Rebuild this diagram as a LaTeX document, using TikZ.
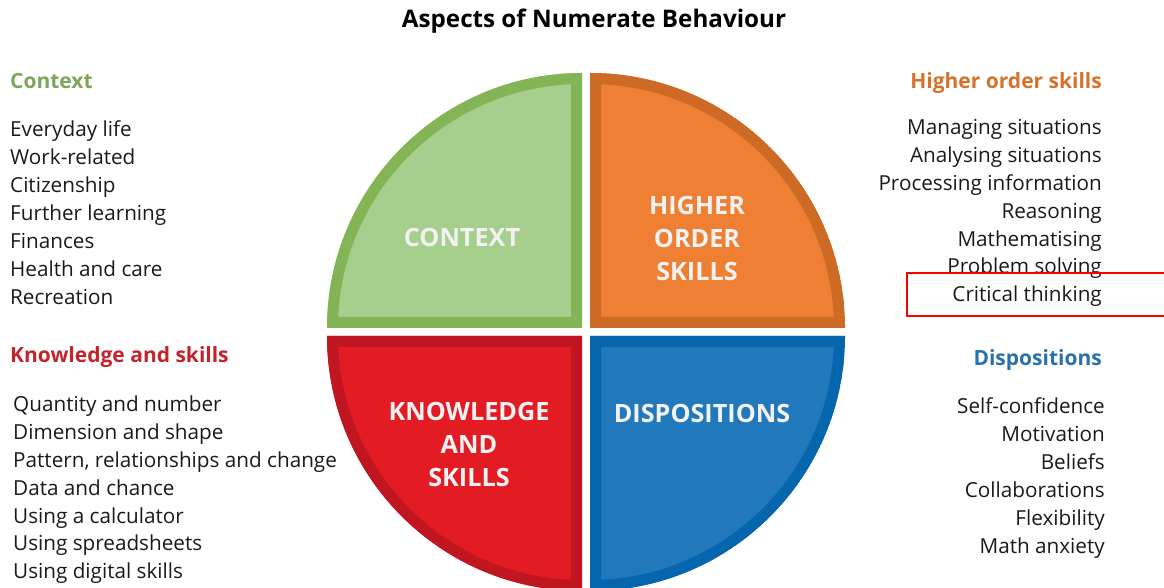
\documentclass[tikz,border=0pt]{standalone}
\usepackage{fontspec}
\setmainfont{Open Sans}
\begin{document}
\definecolor{ctxfill}{HTML}{A6CE8C}
\definecolor{ctxedge}{HTML}{83B556}
\definecolor{ctxhead}{HTML}{7DA55B}
\definecolor{hosfill}{HTML}{EE7F33}
\definecolor{hosedge}{HTML}{CD6A25}
\definecolor{hoshead}{HTML}{D6722B}
\definecolor{kasfill}{HTML}{E31B23}
\definecolor{kasedge}{HTML}{BF1622}
\definecolor{kashead}{HTML}{C3242C}
\definecolor{disfill}{HTML}{2178BA}
\definecolor{disedge}{HTML}{0566AD}
\definecolor{dishead}{HTML}{2A70AA}
\definecolor{bodytext}{HTML}{1A1A1A}
\definecolor{labeltext}{HTML}{F2F2F2}
\begin{tikzpicture}[x=1pt,y=1pt,
  title/.style={font=\fontsize{24.2}{28}\selectfont\bfseries, text=black, inner sep=0pt},
  heading/.style={font=\fontsize{21}{24}\selectfont\bfseries, inner sep=0pt},
  item/.style={font=\fontsize{20.7}{24}\selectfont, text=bodytext, inner sep=0pt},
  qlabel/.style={font=\fontsize{25.2}{33}\selectfont\bfseries, text=labeltext, align=center, inner sep=0pt},
  highlight/.style={draw=red, line width=2pt}]
\useasboundingbox (0,0) rectangle (1164,588);
\clip (0,0) rectangle (1164,588);

% quarter discs: fill, then an inner band drawn inside the clipped outline
\newcommand{\quarter}[5]{%
  \begin{scope}
    \clip #1 -- ++(#2) arc[start angle=#3, end angle=#3-90, radius=255] -- cycle;
    \draw[line width=22pt, draw=#5, fill=#4] #1 -- ++(#2) arc[start angle=#3, end angle=#3-90, radius=255] -- cycle;
  \end{scope}}
\quarter{(582,260)}{-255,0}{180}{ctxfill}{ctxedge}
\quarter{(590,260)}{0,255}{90}{hosfill}{hosedge}
\quarter{(582,252)}{0,-255}{270}{kasfill}{kasedge}
\quarter{(590,252)}{255,0}{0}{disfill}{disedge}

\node[qlabel] (qctx) at (462,351) {CONTEXT};
\node[qlabel] (qhos) at (697,349) {HIGHER\\ORDER\\SKILLS};
\node[qlabel] (qkas) at (469,144) {KNOWLEDGE\\AND\\SKILLS};
\node[qlabel] (qdis) at (702,175) {DISPOSITIONS};

% title
\node[title, anchor=base] (title) at (594,560) {Aspects of Numerate Behaviour};

% context
\node[heading, text=ctxhead, anchor=base west] (hctx) at (10,499.5) {Context};
\foreach \t [count=\i from 0] in {Everyday life, Work-related, Citizenship, Further learning, Finances, Health and care, Recreation}
  \node[item, anchor=base west] (ctx\i) at (10,451-28*\i) {\t};

% knowledge and skills
\node[heading, text=kashead, anchor=base west] (hkas) at (10,225.5) {Knowledge and skills};
\foreach \t [count=\i from 0] in {Quantity and number, Dimension and shape, {Pattern, relationships and change}, Data and chance, Using a calculator, Using spreadsheets, Using digital skills}
  \node[item, anchor=base west] (kas\i) at (13,176-27.8*\i) {\t};

% higher order skills
\node[heading, text=hoshead, anchor=base east] (hhos) at (1102,499.5) {Higher order skills};
\foreach \t [count=\i from 0] in {Managing situations, Analysing situations, Processing information, Reasoning, Mathematising, Problem solving, Critical thinking}
  \node[item, anchor=base east] (hos\i) at (1102,453-27.8*\i) {\t};

% dispositions
\node[heading, text=dishead, anchor=base east] (hdis) at (1102,222.5) {Dispositions};
\foreach \t [count=\i from 0] in {Self-confidence, Motivation, Beliefs, Collaborations, Flexibility, Math anxiety}
  \node[item, anchor=base east] (dis\i) at (1105,174-28*\i) {\t};

% highlight frame round the last higher order skill
\node[highlight, minimum width=270pt, minimum height=43pt, anchor=west, inner sep=0pt] (mark) at (906,293.5) {};
\end{tikzpicture}
\end{document}
